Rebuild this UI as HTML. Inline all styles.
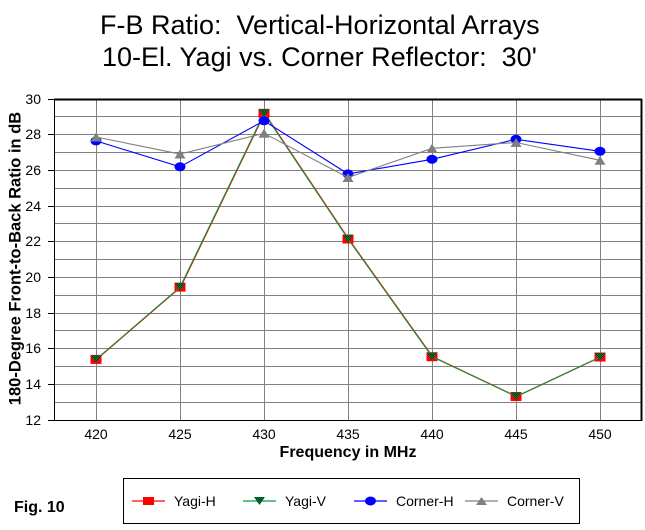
<!DOCTYPE html>
<html>
<head>
<meta charset="utf-8">
<style>
  html,body{margin:0;padding:0;background:#fff;}
  svg{display:block;}
  text{font-family:"Liberation Sans",Arial,sans-serif;fill:#000;}
</style>
</head>
<body>
<svg width="645" height="530" viewBox="0 0 645 530" xmlns="http://www.w3.org/2000/svg">
  <defs>
    <pattern id="hatch" width="2" height="2" patternUnits="userSpaceOnUse">
      <rect width="2" height="2" fill="#00803a"/>
      <rect x="0" y="0" width="1" height="1" fill="#0a3a1a"/>
      <rect x="1" y="1" width="1" height="1" fill="#0a3a1a"/>
    </pattern>
  </defs>
  <rect width="645" height="530" fill="#fff"/>

  <!-- Title -->
  <text x="100" y="34" font-size="27" style="white-space:pre" xml:space="preserve">F-B Ratio:  Vertical-Horizontal Arrays</text>
  <text x="102" y="66" font-size="27" style="white-space:pre" xml:space="preserve">10-El. Yagi vs. Corner Reflector:  30'</text>

  <!-- Horizontal gridlines -->
  <g stroke="#808080" stroke-width="1" shape-rendering="crispEdges">
    <line x1="54" x2="641" y1="402.5" y2="402.5"/>
    <line x1="54" x2="641" y1="384.5" y2="384.5"/>
    <line x1="54" x2="641" y1="366.5" y2="366.5"/>
    <line x1="54" x2="641" y1="348.5" y2="348.5"/>
    <line x1="54" x2="641" y1="330.5" y2="330.5"/>
    <line x1="54" x2="641" y1="313.5" y2="313.5"/>
    <line x1="54" x2="641" y1="295.5" y2="295.5"/>
    <line x1="54" x2="641" y1="277.5" y2="277.5"/>
    <line x1="54" x2="641" y1="259.5" y2="259.5"/>
    <line x1="54" x2="641" y1="241.5" y2="241.5"/>
    <line x1="54" x2="641" y1="223.5" y2="223.5"/>
    <line x1="54" x2="641" y1="206.5" y2="206.5"/>
    <line x1="54" x2="641" y1="188.5" y2="188.5"/>
    <line x1="54" x2="641" y1="170.5" y2="170.5"/>
    <line x1="54" x2="641" y1="152.5" y2="152.5"/>
    <line x1="54" x2="641" y1="134.5" y2="134.5"/>
    <line x1="54" x2="641" y1="116.5" y2="116.5"/>
    <!-- vertical gridlines -->
    <line x1="96.5" x2="96.5" y1="99" y2="420"/>
    <line x1="180.5" x2="180.5" y1="99" y2="420"/>
    <line x1="264.5" x2="264.5" y1="99" y2="420"/>
    <line x1="348.5" x2="348.5" y1="99" y2="420"/>
    <line x1="432.5" x2="432.5" y1="99" y2="420"/>
    <line x1="516.5" x2="516.5" y1="99" y2="420"/>
    <line x1="600.5" x2="600.5" y1="99" y2="420"/>
  </g>

  <!-- Axes / border -->
  <g stroke="#000" shape-rendering="crispEdges">
    <line x1="54.5" x2="54.5" y1="99" y2="421" stroke-width="1"/>
    <line x1="48" x2="642" y1="420.5" y2="420.5" stroke-width="1"/>
    <line x1="54" x2="642" y1="99.5" y2="99.5" stroke-width="2"/>
    <line x1="641.5" x2="641.5" y1="99" y2="421" stroke-width="2"/>
    <!-- left ticks -->
    <line x1="48" x2="54" y1="384.5" y2="384.5"/>
    <line x1="48" x2="54" y1="348.5" y2="348.5"/>
    <line x1="48" x2="54" y1="313.5" y2="313.5"/>
    <line x1="48" x2="54" y1="277.5" y2="277.5"/>
    <line x1="48" x2="54" y1="241.5" y2="241.5"/>
    <line x1="48" x2="54" y1="206.5" y2="206.5"/>
    <line x1="48" x2="54" y1="170.5" y2="170.5"/>
    <line x1="48" x2="54" y1="134.5" y2="134.5"/>
    <line x1="48" x2="54" y1="99.5" y2="99.5"/>
  </g>

  <!-- Y tick labels -->
  <g font-size="14" text-anchor="end">
    <text x="41" y="425">12</text>
    <text x="41" y="389">14</text>
    <text x="41" y="353">16</text>
    <text x="41" y="318">18</text>
    <text x="41" y="282">20</text>
    <text x="41" y="246">22</text>
    <text x="41" y="211">24</text>
    <text x="41" y="175">26</text>
    <text x="41" y="139">28</text>
    <text x="41" y="104">30</text>
  </g>

  <!-- X tick labels -->
  <g font-size="14" text-anchor="middle">
    <text x="96" y="439">420</text>
    <text x="180" y="439">425</text>
    <text x="264" y="439">430</text>
    <text x="348" y="439">435</text>
    <text x="432" y="439">440</text>
    <text x="516" y="439">445</text>
    <text x="600" y="439">450</text>
  </g>

  <!-- Axis titles -->
  <text x="348" y="457" font-size="16" font-weight="bold" text-anchor="middle">Frequency in MHz</text>
  <text transform="translate(20.5,258.5) rotate(-90)" font-size="16.5" font-weight="bold" text-anchor="middle">180-Degree Front-to-Back Ratio in dB</text>

  <!-- Yagi-H (red) -->
  <polyline fill="none" stroke="#ff0000" stroke-width="1.2" transform="translate(0.6,0)"
    points="96,359.4 180,287.1 264,113.3 348,239 432,356.7 516,396.5 600,357"/>
  <g fill="#ff0000">
    <rect x="90.5" y="354.9" width="11" height="9"/>
    <rect x="174.5" y="282.6" width="11" height="9"/>
    <rect x="258.5" y="108.8" width="11" height="9"/>
    <rect x="342.5" y="234.5" width="11" height="9"/>
    <rect x="426.5" y="352.2" width="11" height="9"/>
    <rect x="510.5" y="392" width="11" height="9"/>
    <rect x="594.5" y="352.5" width="11" height="9"/>
  </g>

  <!-- Yagi-V (green) -->
  <polyline fill="none" stroke="#00a040" stroke-width="1"
    points="96,359.4 180,287.1 264,113.3 348,239 432,356.7 516,396.5 600,357"/>
  <g fill="url(#hatch)">
    <polygon points="90.5,355.4 101.5,355.4 96,362.9"/>
    <polygon points="174.5,283.1 185.5,283.1 180,290.6"/>
    <polygon points="258.5,109.3 269.5,109.3 264,116.8"/>
    <polygon points="342.5,235 353.5,235 348,242.5"/>
    <polygon points="426.5,352.7 437.5,352.7 432,360.2"/>
    <polygon points="510.5,392.5 521.5,392.5 516,400"/>
    <polygon points="594.5,353 605.5,353 600,360.5"/>
  </g>

  <!-- Corner-H (blue) -->
  <polyline fill="none" stroke="#0000ff" stroke-width="1.1"
    points="96,140.9 180,166.8 264,120.8 348,173.9 432,159.3 516,139.3 600,151.3"/>
  <g fill="#0000ff">
    <ellipse cx="96" cy="140.9" rx="5.5" ry="4.5"/>
    <ellipse cx="180" cy="166.8" rx="5.5" ry="4.5"/>
    <ellipse cx="264" cy="120.8" rx="5.5" ry="4.5"/>
    <ellipse cx="348" cy="173.9" rx="5.5" ry="4.5"/>
    <ellipse cx="432" cy="159.3" rx="5.5" ry="4.5"/>
    <ellipse cx="516" cy="139.3" rx="5.5" ry="4.5"/>
    <ellipse cx="600" cy="151.3" rx="5.5" ry="4.5"/>
  </g>

  <!-- Corner-V (gray) -->
  <polyline fill="none" stroke="#808080" stroke-width="1.1"
    points="96,137 180,154 264,133.3 348,177.5 432,148.3 516,142.5 600,160.3"/>
  <g fill="#808080">
    <polygon points="90.5,141.5 101.5,141.5 96,132.5"/>
    <polygon points="174.5,158.5 185.5,158.5 180,149.5"/>
    <polygon points="258.5,137.8 269.5,137.8 264,128.8"/>
    <polygon points="342.5,182 353.5,182 348,173"/>
    <polygon points="426.5,152.8 437.5,152.8 432,143.8"/>
    <polygon points="510.5,147 521.5,147 516,138"/>
    <polygon points="594.5,164.8 605.5,164.8 600,155.8"/>
  </g>

  <!-- Fig. 10 -->
  <text x="14" y="512" font-size="16" font-weight="bold">Fig. 10</text>

  <!-- Legend -->
  <rect x="123.5" y="478.5" width="456" height="45" fill="#fff" stroke="#000" stroke-width="1" shape-rendering="crispEdges"/>
  <line x1="132" x2="165" y1="501" y2="501" stroke="#ff0000" stroke-width="1.2"/>
  <rect x="143" y="497" width="11" height="8" fill="#ff0000"/>
  <text x="174" y="506" font-size="14">Yagi-H</text>

  <line x1="243" x2="276" y1="501" y2="501" stroke="#00a040" stroke-width="1.2"/>
  <polygon points="254,497 265,497 259.5,505" fill="url(#hatch)"/>
  <text x="285" y="506" font-size="14">Yagi-V</text>

  <line x1="354" x2="387" y1="501" y2="501" stroke="#0000ff" stroke-width="1.2"/>
  <ellipse cx="370.5" cy="501" rx="5.5" ry="4.5" fill="#0000ff"/>
  <text x="396" y="506" font-size="14">Corner-H</text>

  <line x1="465" x2="498" y1="501" y2="501" stroke="#808080" stroke-width="1.2"/>
  <polygon points="476,505 487,505 481.5,497" fill="#808080"/>
  <text x="507" y="506" font-size="14">Corner-V</text>
</svg>
</body>
</html>
